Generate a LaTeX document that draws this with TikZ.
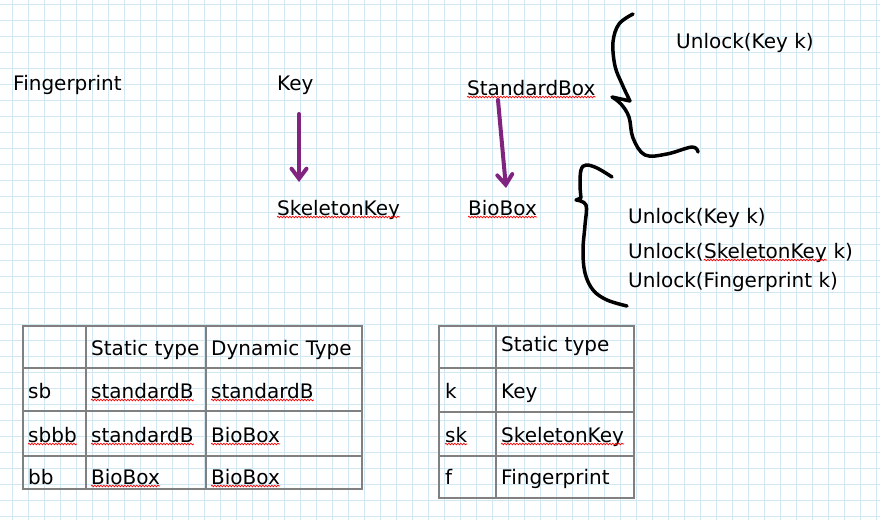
\documentclass[tikz,border=0pt]{standalone}
\usepackage{fontspec}
\setmainfont{DejaVu Sans}
\usetikzlibrary{arrows.meta,decorations.pathmorphing,positioning}
\definecolor{gridblue}{RGB}{210,231,244}
\definecolor{arrowpurple}{RGB}{128,36,128}
\definecolor{rulegray}{RGB}{128,128,128}
\tikzset{
  lbl/.style={anchor=base west, inner sep=0pt, font=\fontsize{20}{24}\selectfont},
  typo/.style={draw=red, line width=0.7pt, decorate,
    decoration={snake, segment length=3pt, amplitude=0.8pt}},
  inherit/.style={draw=arrowpurple, line width=4pt, line cap=round,
    -{Straight Barb[length=10pt,width=15pt,line cap=round]}},
  hand/.style={line width=3.5pt, line cap=round, line join=round},
  rule/.style={draw=rulegray, line width=1.2pt}
}
\newcommand{\typoline}[1]{\draw[typo] ([yshift=-2pt]#1.base west) -- ([yshift=-2pt]#1.base east);}

\begin{document}
\begin{tikzpicture}[x=1pt,y=-1pt]
\fill[white] (0,0) rectangle (880,520);
\useasboundingbox (0,0) rectangle (880,520);
\foreach \gx in {0,...,54}
  \draw[gridblue, line width=1pt] (12+16*\gx,0) -- (12+16*\gx,520);
\foreach \gy in {0,...,32}
  \draw[gridblue, line width=1pt] (0,4+16*\gy) -- (880,4+16*\gy);

% classes
\node[lbl] (Fp) at (13,90) {Fingerprint};
\node[lbl] (Key) at (277,90) {Key};
\node[lbl] (SKey) at (277,215) {SkeletonKey};
\node[lbl] (SBox) at (467,95) {StandardBox};
\node[lbl] (Bio) at (468,215) {BioBox};

\draw[inherit] ([xshift=22pt,yshift=-24pt]Key.base west) -- ([xshift=22pt,yshift=33pt]SKey.base west);
\draw[inherit] ([xshift=31pt,yshift=-5pt]SBox.base west) -- ([xshift=38pt,yshift=27pt]Bio.base west);

% methods
\node[lbl] (U0) at (676,48) {Unlock(Key k)};
\node[lbl] (U1) at (628,223) {Unlock(Key k)};
\node[lbl] (U2a) at (628,258) {Unlock(};
\node[lbl] (U2b) at (U2a.base east) {SkeletonKey};
\node[lbl] (U2c) at (U2b.base east) {\ k)};
\node[lbl] (U3) at (628,287) {Unlock(Fingerprint k)};

\draw[hand] plot[smooth, tension=0.6] coordinates {(633,14) (619,24) (613,42) (615,66) (622,84) (630,101)}
  -- plot[smooth, tension=0.6] coordinates {(612,97) (621,104) (629,117) (633,138) (645,155) (667,154) (692,147) (698,152)};
\draw[hand] plot[smooth, tension=0.6] coordinates {(612,177) (597,168) (586,165) (581,170) (580,185) (581,198)}
  -- plot[smooth, tension=0.6] coordinates {(576,200) (586,205) (585,225) (583,250) (585,273) (593,290) (607,300) (627,306)};

% table 1
\draw[rule] (23,326) rectangle (362,489);
\draw[rule] (86,326) -- (86,489) (206,326) -- (206,489);
\draw[rule] (23,368) -- (362,368) (23,411) -- (362,411) (23,456) -- (362,456);
\node[lbl] (t1h2) at (91,355) {Static type};
\node[lbl] (t1h3) at (211,355) {Dynamic Type};
\node[lbl] (t1a1) at (28,398) {sb};
\node[lbl] (t1a2) at (91,398) {standardB};
\node[lbl] (t1a3) at (211,398) {standardB};
\node[lbl] (t1b1) at (28,442) {sbbb};
\node[lbl] (t1b2) at (91,442) {standardB};
\node[lbl] (t1b3) at (211,442) {BioBox};
\node[lbl] (t1c1) at (28,484) {bb};
\node[lbl] (t1c2) at (91,484) {BioBox};
\node[lbl] (t1c3) at (211,484) {BioBox};

% table 2
\draw[rule] (439,326) rectangle (634,498);
\draw[rule] (496,326) -- (496,498);
\draw[rule] (439,368) -- (634,368) (439,412) -- (634,412) (439,456) -- (634,456);
\node[lbl] (t2h2) at (501,351) {Static type};
\node[lbl] (t2a1) at (445,398) {k};
\node[lbl] (t2a2) at (501,398) {Key};
\node[lbl] (t2b1) at (445,442) {sk};
\node[lbl] (t2b2) at (501,442) {SkeletonKey};
\node[lbl] (t2c1) at (445,484) {f};
\node[lbl] (t2c2) at (501,484) {Fingerprint};

% spell check marks
\typoline{SKey} \typoline{SBox} \typoline{Bio} \typoline{U2b}
\typoline{t1a2} \typoline{t1a3} \typoline{t1b1} \typoline{t1b2} \typoline{t1b3}
\typoline{t1c2} \typoline{t1c3} \typoline{t2b1} \typoline{t2b2}
\end{tikzpicture}
\end{document}
